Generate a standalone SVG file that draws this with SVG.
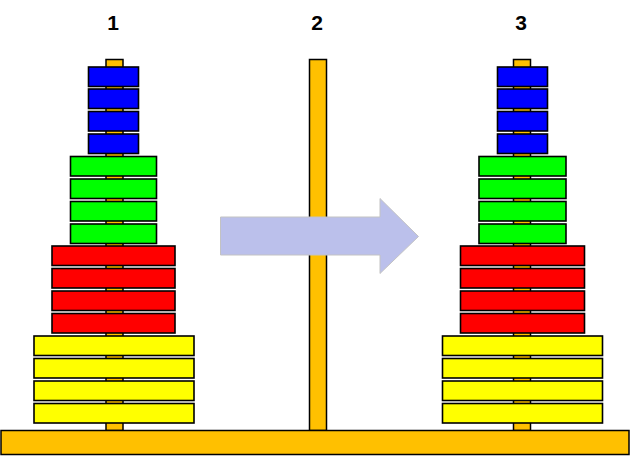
<svg xmlns="http://www.w3.org/2000/svg" width="630" height="456" viewBox="0 0 630 456">
<style>
.peg{fill:#FFC000;stroke:#000;stroke-width:1.5}
.d{stroke:#000;stroke-width:1.6}
.b{fill:#0000FF}
.g{fill:#00FF00}
.r{fill:#FF0000}
.y{fill:#FFFF00}
.lbl{font-family:"Liberation Sans",Arial,sans-serif;font-size:21px;font-weight:bold;fill:#000;text-anchor:middle}
</style>
<rect width="630" height="456" fill="#fff"/>
<g id="labels">
<text class="lbl" x="113" y="30">1</text>
<text class="lbl" x="317" y="30">2</text>
<text class="lbl" x="521" y="30">3</text>
</g>
<g id="peg1"><rect class="peg" x="106" y="59.5" width="17" height="371"/></g>
<g id="peg2"><rect class="peg" x="309.5" y="59.5" width="17" height="371"/></g>
<g id="peg3"><rect class="peg" x="513.5" y="59.5" width="17" height="371"/></g>
<g id="base"><rect class="peg" x="1" y="430.5" width="628" height="24"/></g>
<g id="tower1">
<rect class="d b" x="88.5" y="67" width="50" height="19.5"/>
<rect class="d b" x="88.5" y="89" width="50" height="19.5"/>
<rect class="d b" x="88.5" y="111.5" width="50" height="19.5"/>
<rect class="d b" x="88.5" y="134" width="50" height="19.5"/>
<rect class="d g" x="70.5" y="156.5" width="86" height="19.5"/>
<rect class="d g" x="70.5" y="179" width="86" height="19.5"/>
<rect class="d g" x="70.5" y="201.5" width="86" height="19.5"/>
<rect class="d g" x="70.5" y="224" width="86" height="19.5"/>
<rect class="d r" x="52" y="246" width="123" height="19.5"/>
<rect class="d r" x="52" y="268.5" width="123" height="19.5"/>
<rect class="d r" x="52" y="291" width="123" height="19.5"/>
<rect class="d r" x="52" y="313.5" width="123" height="19.5"/>
<rect class="d y" x="34" y="336" width="160" height="19.5"/>
<rect class="d y" x="34" y="358.5" width="160" height="19.5"/>
<rect class="d y" x="34" y="381" width="160" height="19.5"/>
<rect class="d y" x="34" y="403.5" width="160" height="19.5"/>
</g>
<g id="tower3">
<rect class="d b" x="497.5" y="67" width="50" height="19.5"/>
<rect class="d b" x="497.5" y="89" width="50" height="19.5"/>
<rect class="d b" x="497.5" y="111.5" width="50" height="19.5"/>
<rect class="d b" x="497.5" y="134" width="50" height="19.5"/>
<rect class="d g" x="479" y="156.5" width="87" height="19.5"/>
<rect class="d g" x="479" y="179" width="87" height="19.5"/>
<rect class="d g" x="479" y="201.5" width="87" height="19.5"/>
<rect class="d g" x="479" y="224" width="87" height="19.5"/>
<rect class="d r" x="460.5" y="246" width="124" height="19.5"/>
<rect class="d r" x="460.5" y="268.5" width="124" height="19.5"/>
<rect class="d r" x="460.5" y="291" width="124" height="19.5"/>
<rect class="d r" x="460.5" y="313.5" width="124" height="19.5"/>
<rect class="d y" x="442.5" y="336" width="160" height="19.5"/>
<rect class="d y" x="442.5" y="358.5" width="160" height="19.5"/>
<rect class="d y" x="442.5" y="381" width="160" height="19.5"/>
<rect class="d y" x="442.5" y="403.5" width="160" height="19.5"/>
</g>
<g id="connectors">
<path d="M220.5,217 L380,217 L380,198.5 L418.5,236.5 L380,273.5 L380,255 L220.5,255 Z" fill="#BBC0EB" stroke="#C3C3C3" stroke-width="1"/>
</g>
</svg>
